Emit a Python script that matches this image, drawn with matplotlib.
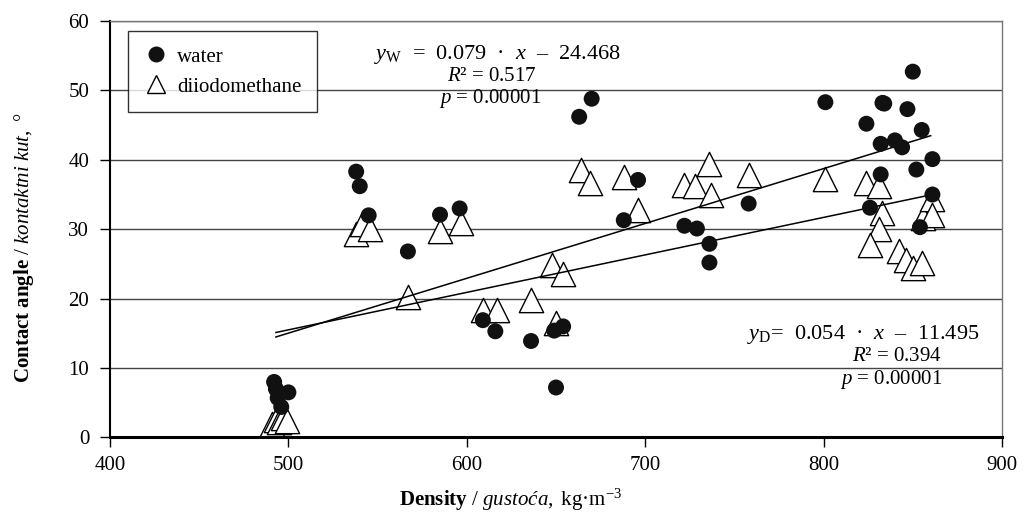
import numpy as np
import matplotlib
matplotlib.use("Agg")
import matplotlib.pyplot as plt
from matplotlib.lines import Line2D

plt.rcParams['font.family'] = ['Liberation Serif', 'DejaVu Serif']
plt.rcParams['mathtext.fontset'] = 'custom'
plt.rcParams['mathtext.rm'] = 'Liberation Serif'
plt.rcParams['mathtext.it'] = 'Liberation Serif:italic'
plt.rcParams['mathtext.bf'] = 'Liberation Serif:bold'

# water contact angle vs density
water_x = [492, 493, 494, 496, 500, 538, 540, 545, 567, 585, 596, 609, 616, 636, 649,
           650, 654, 663, 670, 688, 696, 722, 729, 736, 736, 758, 801, 824, 826, 832,
           832, 833, 834, 840, 844, 847, 850, 852, 854, 855, 861, 861]
water_y = [8.0, 7.0, 5.7, 4.4, 6.5, 38.3, 36.2, 32.0, 26.8, 32.1, 33.0, 16.9, 15.3, 13.9, 15.4,
           7.2, 16.0, 46.2, 48.8, 31.3, 37.1, 30.5, 30.1, 27.9, 25.2, 33.7, 48.3, 45.2, 33.1, 42.3,
           37.9, 48.2, 48.1, 42.8, 41.8, 47.3, 52.7, 38.6, 30.3, 44.3, 40.1, 35.0]

# diiodomethane contact angle vs density
diio_x = [491, 493, 495, 497, 499, 538, 541, 546, 567, 585, 597, 609, 617, 636, 648,
          650, 654, 664, 669, 688, 696, 722, 728, 736, 737, 758, 801, 824, 831, 833,
          831, 826, 842, 846, 850, 855, 856, 861, 861]
diio_y = [2.0, 2.5, 2.2, 2.8, 2.4, 29.3, 30.8, 30.0, 20.2, 29.8, 30.9, 18.3, 18.3, 19.8, 24.8,
          16.5, 23.5, 38.5, 36.7, 37.5, 32.8, 36.4, 36.2, 39.4, 35.0, 37.8, 37.2, 36.7, 36.3, 32.4,
          30.0, 27.8, 26.9, 25.5, 24.4, 25.2, 31.6, 34.3, 32.1]

# fitted lines (slope, intercept) over the data range
fit_w = (0.079, -24.468)
fit_d = (0.054, -11.495)
fit_range = [493, 860]

fs = 15

fig = plt.figure(figsize=(10.26, 5.22), dpi=100)
ax = fig.add_axes([0.1072, 0.1619, 0.8694, 0.7979])

ax.scatter(diio_x, diio_y, marker='^', s=17.5**2, facecolor='white', edgecolor='black',
           linewidth=1.0, zorder=3)
xr = np.array(fit_range)
ax.plot(xr, fit_w[0] * xr + fit_w[1], color='black', lw=1.1, zorder=4)
ax.plot(xr, fit_d[0] * xr + fit_d[1], color='black', lw=1.1, zorder=4)
ax.scatter(water_x, water_y, marker='o', s=11.5**2, color='#111111', edgecolor='none', zorder=5)

ax.set_xlim(400, 900)
ax.set_ylim(0, 60)
ax.set_xticks(np.arange(400, 901, 100))
ax.set_yticks(np.arange(0, 61, 10))
ax.yaxis.grid(True, color='#444444', lw=1.0)
ax.set_axisbelow(True)
for s in ['top', 'right']:
    ax.spines[s].set_color('#777777')
    ax.spines[s].set_linewidth(1.0)
ax.spines['left'].set_linewidth(1.5)
ax.spines['bottom'].set_linewidth(2.2)
ax.tick_params(axis='both', labelsize=fs, length=7, width=1.0, direction='out', colors='black')
ax.tick_params(axis='y', pad=8)
ax.tick_params(axis='x', pad=6)

ax.set_xlabel(r'$\mathbf{Density}$ / $\mathit{gustoća,}$ kg·m$^{-3}$', fontsize=fs)
ax.xaxis.set_label_coords(0.4496, -0.118)
ax.set_ylabel(r'$\mathbf{Contact\ angle}$ / $\mathit{kontaktni\ kut,}$ °', fontsize=fs)
ax.yaxis.set_label_coords(-0.083, 0.455)

handles = [Line2D([], [], ls='none', marker='o', ms=11.5, color='#111111', mec='none'),
           Line2D([], [], ls='none', marker='^', ms=12.5, mfc='white', mec='black', mew=1.0)]
leg = ax.legend(handles, ['water', 'diiodomethane'], loc='upper left', fontsize=fs,
                bbox_to_anchor=(0.02, 0.975), frameon=True, fancybox=False,
                edgecolor='black', borderpad=0.75, handletextpad=0.4, handlelength=1.2,
                labelspacing=0.5, borderaxespad=0)
leg.get_frame().set_linewidth(1.0)
leg.set_zorder(10)

ax.text(617.5, 55.2, r'$y_{\mathrm{W}}$  =  0.079  ·  $x$  –  24.468', fontsize=16, ha='center', va='center')
ax.text(614, 52.0, r'$R$² = 0.517', fontsize=fs, ha='center', va='center')
ax.text(613, 48.9, r'$p$ = 0.00001', fontsize=fs, ha='center', va='center')
ax.text(822, 14.8, r'$y_{\mathrm{D}}$=  0.054  ·  $x$  –  11.495', fontsize=16, ha='center', va='center')
ax.text(841, 11.6, r'$R$² = 0.394', fontsize=fs, ha='center', va='center')
ax.text(838, 8.3, r'$p$ = 0.00001', fontsize=fs, ha='center', va='center')

fig.savefig('out.png', dpi=100)
